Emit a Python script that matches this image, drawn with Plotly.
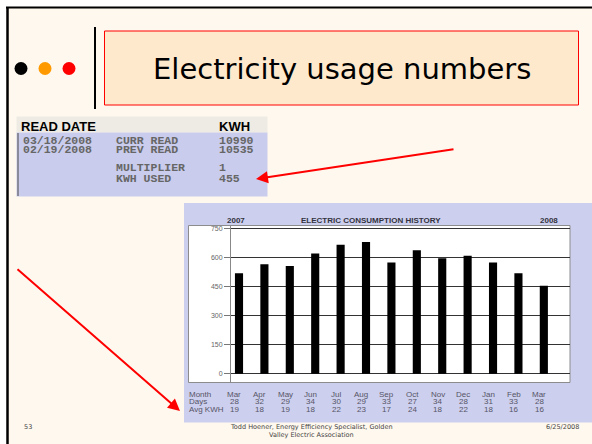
import plotly.graph_objects as go

# ---------------- data ----------------
months = ["Mar", "Apr", "May", "Jun", "Jul", "Aug", "Sep", "Oct", "Nov", "Dec", "Jan", "Feb", "Mar"]
days = [28, 32, 29, 34, 30, 29, 33, 27, 34, 28, 31, 33, 28]
avg_kwh = [19, 18, 19, 18, 22, 23, 17, 24, 18, 22, 18, 16, 16]
kwh = [520, 567, 557, 622, 668, 682, 575, 639, 598, 610, 575, 520, 455]
y_ticks = [0, 150, 300, 450, 600, 750]

read_rows = [
    ("03/18/2008", "CURR READ", "10990"),
    ("02/19/2008", "PREV READ", "10535"),
    ("", "MULTIPLIER", "1"),
    ("", "KWH USED", "455"),
]

W, H = 592, 444


def px(x):
    return x / W


def py(y):
    return 1 - y / H


shapes = []
annotations = []


def rect(x0, y0, x1, y1, fill, line_color=None, lw=0, layer="below"):
    shapes.append(dict(type="rect", xref="paper", yref="paper",
                       x0=px(x0), x1=px(x1), y0=py(y1), y1=py(y0),
                       fillcolor=fill,
                       line=dict(color=line_color or fill, width=lw),
                       layer=layer))


def line(x0, y0, x1, y1, color, width):
    shapes.append(dict(type="line", xref="paper", yref="paper",
                       x0=px(x0), x1=px(x1), y0=py(y0), y1=py(y1),
                       line=dict(color=color, width=width), layer="below"))


def text(x, y, s, size, color="#000", family="Liberation Sans", xanchor="left",
         yanchor="middle", bold=False):
    if bold:
        s = "<b>" + s + "</b>"
    annotations.append(dict(x=px(x), y=py(y), xref="paper", yref="paper",
                            text=s, showarrow=False, xanchor=xanchor, yanchor=yanchor,
                            font=dict(size=size, color=color, family=family)))


# slide background + border (only top and left edges visible)
rect(7, 8, 600, 450, "#FFF8EE")
line(7.5, 7, 7.5, 444, "#000000", 2.5)
line(6, 7.5, 592, 7.5, "#000000", 2)

# bullets
for cx, col in [(21, "#000000"), (45, "#FF9900"), (69, "#FF0000")]:
    shapes.append(dict(type="circle", xref="paper", yref="paper",
                       x0=px(cx - 6.5), x1=px(cx + 6.5), y0=py(75), y1=py(62),
                       fillcolor=col, line=dict(width=0), layer="below"))
# vertical separator
line(95, 27, 95, 109, "#000", 2)
# title box
rect(104.5, 31, 578.5, 105, "#FFE9CC", "#FF0000", 1)
text(341.5, 69, "Electricity usage numbers", 29, "#000", "DejaVu Sans", "center")

# read-date table
rect(16.5, 116.5, 267.5, 132.5, "#EEEAE4")
rect(16.5, 132.5, 267.5, 196.5, "#C9CCEC")
line(18, 196, 18, 133, "#8A8A9A", 2)
text(18.5, 126.5, "READ DATE", 13, "#000", "Liberation Sans", bold=True)
text(216.5, 126.5, "KWH", 13, "#000", "Liberation Sans", bold=True)
row_y = [140, 149.5, 167, 178]
for (d, lab, val), yy in zip(read_rows, row_y):
    if d:
        text(21, yy, d, 11.5, "#666", "Liberation Mono", bold=True)
    text(113.5, yy, lab, 11.5, "#666", "Liberation Mono", bold=True)
    text(216.5, yy, val, 11.5, "#666", "Liberation Mono", bold=True)

# chart panel
rect(184, 203, 600, 422.5, "#CDCFEE")
rect(188.5, 225.5, 570, 382.5, "#FFFFFF", "#8C8C8C", 1)
text(225, 220.5, "2007", 8, "#333340", bold=True)
text(370.5, 220.5, "ELECTRIC CONSUMPTION HISTORY", 8, "#333340", xanchor="center", bold=True)
text(560, 220.5, "2008", 8, "#333340", xanchor="right", bold=True)

# month table below chart
lab_y = [394, 401.5, 409]
for lab, yy in zip(["Month", "Days", "Avg KWH"], lab_y):
    text(187, yy, lab, 8, "#555566")
for i, (m, d, a) in enumerate(zip(months, days, avg_kwh)):
    for s, yy in zip([m, str(d), str(a)], lab_y):
        annotations.append(dict(x=i - 0.18, xref="x", y=py(yy), yref="paper",
                                text=s, showarrow=False, xanchor="center", yanchor="middle",
                                font=dict(size=8, color="#555566", family="Liberation Sans")))

# arrows
annotations.append(dict(x=px(256), y=py(179), xref="paper", yref="paper", text="",
                        showarrow=True, arrowhead=2, arrowsize=1.2, arrowwidth=2,
                        arrowcolor="#FF0000", axref="pixel", ayref="pixel",
                        ax=455 - 256, ay=149 - 179))
annotations.append(dict(x=px(180), y=py(411), xref="paper", yref="paper", text="",
                        showarrow=True, arrowhead=2, arrowsize=1.2, arrowwidth=2,
                        arrowcolor="#FF0000", axref="pixel", ayref="pixel",
                        ax=16 - 180, ay=268 - 411))

# footer
text(22, 427, "53", 6.5, "#444", "DejaVu Sans")
text(312, 427, "Todd Hoener, Energy Efficiency Specialist, Golden", 6.5, "#444", "DejaVu Sans", "center")
text(312, 435, "Valley Electric Association", 6.5, "#444", "DejaVu Sans", "center")
text(581, 427, "6/25/2008", 6.5, "#444", "DejaVu Sans", "right")

# ---------------- chart ----------------
x_idx = list(range(len(kwh)))
fig = go.Figure(go.Bar(x=x_idx, y=kwh, width=0.32, marker=dict(color="#000000", line=dict(width=0)),
                       hoverinfo="skip"))

fig.update_layout(
    width=W, height=H, margin=dict(l=0, r=0, t=0, b=0),
    paper_bgcolor="#FFFFFF", plot_bgcolor="rgba(0,0,0,0)",
    showlegend=False, shapes=shapes, annotations=annotations,
    xaxis=dict(domain=[px(231), px(570)], range=[-0.315, 13.03], showticklabels=False,
               showgrid=False, zeroline=False, ticks="", fixedrange=True),
    yaxis=dict(domain=[py(382.5), py(225.5)], range=[-45, 767], tickvals=y_ticks,
               ticktext=[str(v) for v in y_ticks], ticks="outside", ticklen=6,
               tickcolor="#777", tickfont=dict(size=7, color="#666", family="Liberation Sans"),
               showgrid=True, gridcolor="#333", gridwidth=1, zeroline=False,
               showline=True, linecolor="#888", linewidth=1, fixedrange=True),
)

fig.write_html("out.html", config={"displayModeBar": False},
               post_script="document.body.style.margin='0';document.body.style.overflow='hidden';")
